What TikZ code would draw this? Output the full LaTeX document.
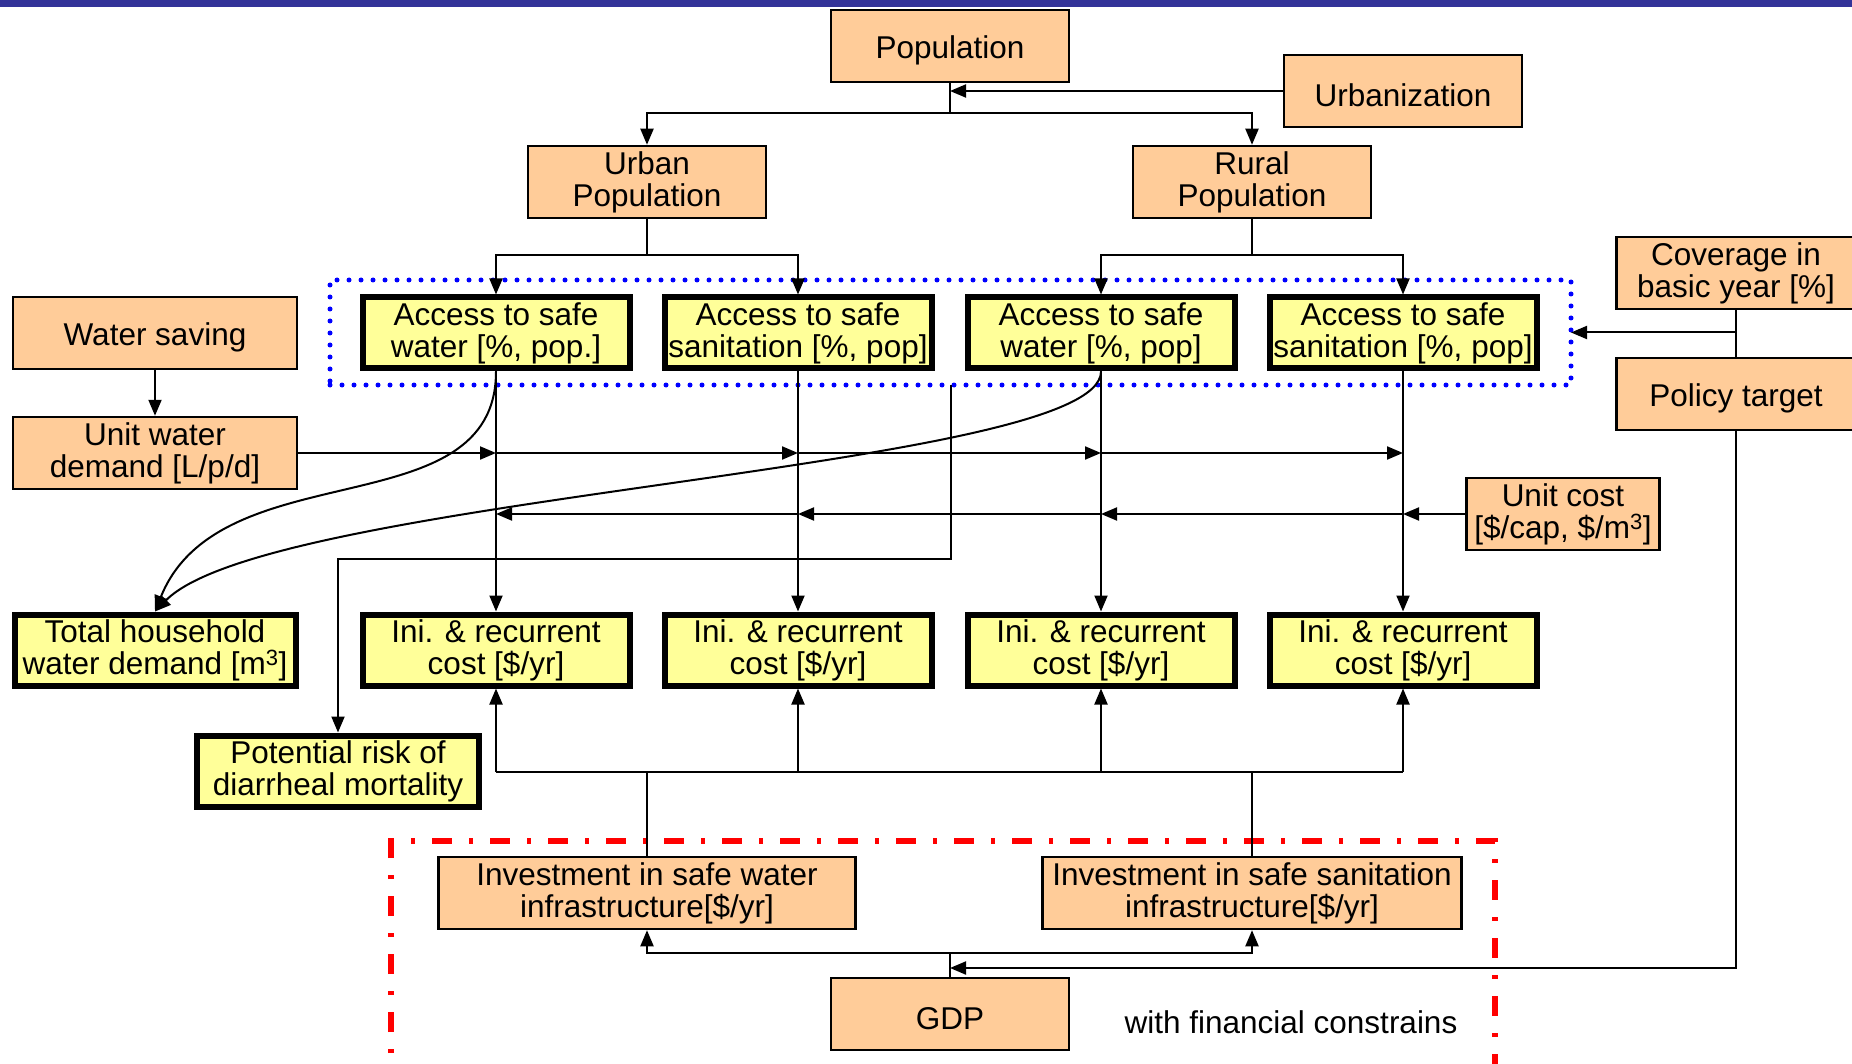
\documentclass[tikz,border=0pt]{standalone}
\usepackage{fontspec}
\setmainfont{Liberation Sans}
\usetikzlibrary{arrows.meta}
\definecolor{topbar}{RGB}{51,51,153}
\definecolor{boxorange}{RGB}{255,204,153}
\definecolor{boxyellow}{RGB}{255,255,153}

\begin{document}
\begin{tikzpicture}[x=1pt,y=-1pt,
    every node/.style={font=\fontsize{31.5}{32}\selectfont, align=center, inner sep=0pt},
    inbox/.style={draw=black, line width=2.5pt, fill=boxorange, minimum height=72pt,
      execute at begin node={\rule{0pt}{31pt}}},
    outbox/.style={draw=black, line width=6pt, fill=boxyellow, minimum width=267pt, minimum height=71pt,
      execute at begin node={\rule{0pt}{31pt}}},
    >={Triangle[length=16pt,width=13pt]},
    wire/.style={line width=2pt},
    link/.style={wire, ->}]
    \useasboundingbox (0,0) rectangle (1852,1064);
    \fill[topbar] (0,0) rectangle (1852,7);

    % group of access indicators
    \node[draw=blue, line width=5pt, dash pattern=on 0pt off 12pt, line cap=round,
      minimum width=1241pt, minimum height=105pt, outer sep=0pt] (acc) at (950.5,332.5) {};
    \draw[red, line width=5.5pt, dash pattern=on 20pt off 17pt on 4pt off 17pt]
      (391,1090) -- (391,841) -- (1495,841) -- (1495,1090);

    \node[inbox, minimum width=238pt] (pop) at (950,46) {Population};
    \node[inbox, minimum width=238pt] (urb) at (1403,91) {Urbanization};
    \node[inbox, minimum width=238pt] (upop) at (647,182) {Urban\\Population};
    \node[inbox, minimum width=238pt] (rpop) at (1252,182) {Rural\\Population};
    \node[inbox, minimum width=239pt] (cov) at (1736,273) {Coverage in\\basic year [\%]};
    \node[inbox, minimum width=239pt] (pol) at (1736,394) {Policy target};
    \node[inbox, minimum width=284pt] (ws) at (155,333) {Water saving};
    \node[inbox, minimum width=284pt] (uwd) at (155,453) {Unit water\\demand [L/p/d]};
    \node[inbox, minimum width=193pt] (uc) at (1563,514) {Unit cost\\{[}\$/cap, \$/m\textsuperscript{3}]};
    \node[inbox, minimum width=417pt] (invw) at (647,893) {Investment in safe water\\infrastructure[\$/yr]};
    \node[inbox, minimum width=419pt] (invs) at (1252,893) {Investment in safe sanitation\\infrastructure[\$/yr]};
    \node[inbox, minimum width=238pt] (gdp) at (950,1014) {GDP};
    \node (fin) at (1291,1022) {with financial constrains};

    \node[outbox] (a1) at (496,333) {Access to safe\\water [\%, pop.]};
    \node[outbox] (a2) at (798,333) {Access to safe\\sanitation [\%, pop]};
    \node[outbox] (a3) at (1101,333) {Access to safe\\water [\%, pop]};
    \node[outbox] (a4) at (1403,333) {Access to safe\\sanitation [\%, pop]};
    \node[outbox] (i1) at (496,650) {Ini. \& recurrent\\cost [\$/yr]};
    \node[outbox] (i2) at (798,650) {Ini. \& recurrent\\cost [\$/yr]};
    \node[outbox] (i3) at (1101,650) {Ini. \& recurrent\\cost [\$/yr]};
    \node[outbox] (i4) at (1403,650) {Ini. \& recurrent\\cost [\$/yr]};
    \node[outbox, minimum width=281pt] (tot) at (155,650) {Total household\\water demand [m\textsuperscript{3}]};
    \node[outbox, minimum width=282pt] (risk) at (338,771) {Potential risk of\\diarrheal mortality};

    % population split
    \draw[wire] (pop.south) -- ++(0,30) coordinate (pbus);
    \draw[link] (pbus) -| (upop.north);
    \draw[link] (pbus) -| (rpop.north);
    \draw[link] (urb.west) -- (pop.south |- urb.west);
    \draw[wire] (upop.south) -- ++(0,36) coordinate (ubus);
    \draw[link] (ubus) -| (a1.north);
    \draw[link] (ubus) -| (a2.north);
    \draw[wire] (rpop.south) -- ++(0,36) coordinate (rbus);
    \draw[link] (rbus) -| (a3.north);
    \draw[link] (rbus) -| (a4.north);

    % targets
    \draw[wire] (cov.south) -- (pol.north);
    \draw[link] (cov.south |- acc.east) -- (acc.east);
    \draw[link] (ws.south) -- (uwd.north);

    % access to cost
    \draw[link] (a1.south) -- (i1.north);
    \draw[link] (a2.south) -- (i2.north);
    \draw[link] (a3.south) -- (i3.north);
    \draw[link] (a4.south) -- (i4.north);

    % unit water demand
    \draw[link] (uwd.east) -- (a1.south |- uwd.east);
    \draw[link] (a1.south |- uwd.east) -- (a2.south |- uwd.east);
    \draw[link] (a2.south |- uwd.east) -- (a3.south |- uwd.east);
    \draw[link] (a3.south |- uwd.east) -- (a4.south |- uwd.east);

    % unit cost
    \draw[link] (uc.west) -- (a4.south |- uc.west);
    \draw[link] (a4.south |- uc.west) -- (a3.south |- uc.west);
    \draw[link] (a3.south |- uc.west) -- (a2.south |- uc.west);
    \draw[link] (a2.south |- uc.west) -- (a1.south |- uc.west);

    % household demand and health
    \draw[link] (a1.south) .. controls +(0,158) and +(65,-162) .. (tot.north);
    \draw[link] (a3.south) .. controls +(0,98) and +(115,-117) .. (tot.north);
    \draw[link] (acc.south) -- ++(0,174) -| (risk.north);

    % investment
    \coordinate (bus) at (0,772);
    \draw[wire] (i1.south |- bus) -- (i4.south |- bus);
    \draw[wire] (invw.north) -- (invw.north |- bus);
    \draw[wire] (invs.north) -- (invs.north |- bus);
    \draw[link] (i1.south |- bus) -- (i1.south);
    \draw[link] (i2.south |- bus) -- (i2.south);
    \draw[link] (i3.south |- bus) -- (i3.south);
    \draw[link] (i4.south |- bus) -- (i4.south);

    % gdp
    \coordinate (gbus) at (0,953);
    \coordinate (gin) at (0,968);
    \draw[wire] (gdp.north) -- (gdp.north |- gbus);
    \draw[link] (gdp.north |- gbus) -| (invw.south);
    \draw[link] (gdp.north |- gbus) -| (invs.south);
    \draw[link] (pol.south) |- (gdp.north |- gin);
\end{tikzpicture}
\end{document}
